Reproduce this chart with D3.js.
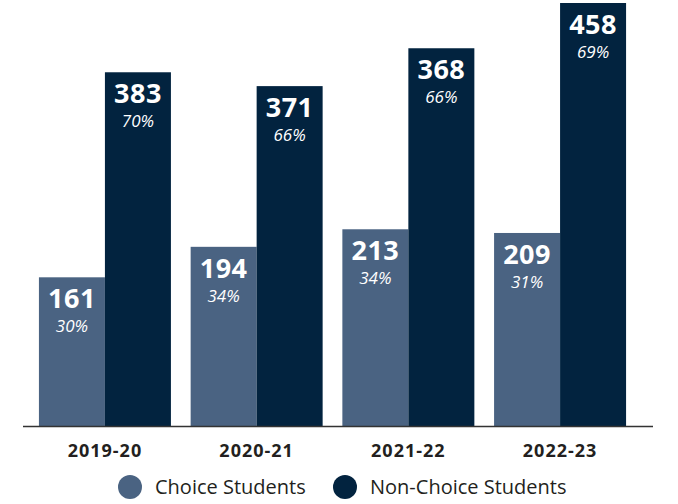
<!DOCTYPE html>
<html>
<head>
<meta charset="utf-8">
<title>Choice Students</title>
<script src="https://d3js.org/d3.v7.min.js"></script>
<style>
body {
	margin: 0;
	background-color: white;
}
svg text {
	font-family: "Open Sans", sans-serif;
}
</style>
</head>
<body>
<div id="graph"></div>
<script>
"use strict";
const years = ["2019-20", "2020-21", "2021-22", "2022-23"];
const series = ["Choice Students", "Non-Choice Students"];
// labelled counts
const choice = [161, 194, 213, 209];
const nonChoice = [383, 371, 368, 458];
// bar lengths as drawn in the picture (the 2020-21 / 2021-22 bars don't follow their labels)
const choiceBar = [161, 194, 213, 209];
const nonChoiceBar = [383, 368, 409, 458];
const choicePct = ["30%", "34%", "34%", "31%"];
const nonChoicePct = ["70%", "66%", "66%", "69%"];
const colors = ["#4a6382", "#02233f"];

const width = 678, height = 504;
const baseline = 426;

const svg = d3.select("#graph").append("svg")
	.attr("width", width)
	.attr("height", height);

const x0 = d3.scaleBand(years, [23, 642]).paddingInner(0.13).paddingOuter(0.105);
const x1 = d3.scaleBand(series, [0, x0.bandwidth()]);
const y = d3.scaleLinear([0, 458], [baseline, 3]);

const rows = years.map((yr, i) => [
	{year: yr, key: series[0], v: choice[i], bar: choiceBar[i], pct: choicePct[i], c: colors[0]},
	{year: yr, key: series[1], v: nonChoice[i], bar: nonChoiceBar[i], pct: nonChoicePct[i], c: colors[1]}
]);

const groups = svg.selectAll(".grp")
	.data(rows)
	.join("g")
	.attr("class", "grp")
	.attr("transform", d => "translate(" + x0(d[0].year) + ",0)");

const bars = groups.selectAll("g")
	.data(d => d)
	.join("g");

bars.append("rect")
	.attr("x", d => x1(d.key))
	.attr("y", d => y(d.bar))
	.attr("width", x1.bandwidth())
	.attr("height", d => baseline - y(d.bar))
	.attr("fill", d => d.c);

bars.append("text")
	.attr("x", d => x1(d.key) + x1.bandwidth() / 2)
	.attr("y", d => y(d.bar) + 31)
	.attr("text-anchor", "middle")
	.attr("fill", "white")
	.attr("font-weight", "bold")
	.attr("font-size", "27px")
	.attr("letter-spacing", "0.5px")
	.text(d => d.v);

bars.append("text")
	.attr("x", d => x1(d.key) + x1.bandwidth() / 2)
	.attr("y", d => y(d.bar) + 55)
	.attr("text-anchor", "middle")
	.attr("fill", "white")
	.attr("font-style", "italic")
	.attr("font-size", "17px")
	.text(d => d.pct);

// baseline
svg.append("line")
	.attr("x1", 23).attr("x2", 653)
	.attr("y1", baseline + 0.5).attr("y2", baseline + 0.5)
	.attr("stroke", "#333")
	.attr("stroke-width", 1.5);

// category labels
svg.selectAll(".cat")
	.data(years)
	.join("text")
	.attr("class", "cat")
	.attr("x", d => x0(d) + x0.bandwidth() / 2)
	.attr("y", 457)
	.attr("text-anchor", "middle")
	.attr("font-weight", "bold")
	.attr("font-size", "18px")
	.attr("letter-spacing", "1px")
	.attr("fill", "#231f20")
	.text(d => d);

// legend
const legendX = [130, 345];
const legend = svg.selectAll(".leg")
	.data(series)
	.join("g")
	.attr("class", "leg")
	.attr("transform", (d, i) => "translate(" + legendX[i] + ",487)");
legend.append("circle")
	.attr("r", 12)
	.attr("fill", (d, i) => colors[i]);
legend.append("text")
	.attr("x", 25)
	.attr("y", 7)
	.attr("font-size", "20px")
	.attr("fill", "#231f20")
	.text(d => d);
</script>
</body>
</html>
